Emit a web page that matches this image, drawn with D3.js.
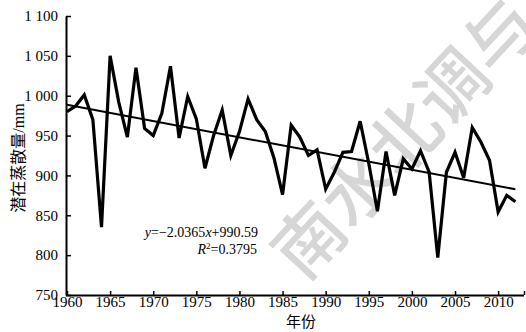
<!DOCTYPE html>
<html>
<head>
<meta charset="utf-8">
<script src="https://cdn.jsdelivr.net/npm/d3@7"></script>
<style>
  html, body { margin: 0; padding: 0; background: #fff; }
  svg { display: block; }
  .serif { font-family: "Liberation Serif", "Times New Roman", "DejaVu Serif", serif; }
  .cjk { font-family: "Noto Sans CJK SC", sans-serif; }
</style>
</head>
<body>
<svg id="chart" width="526" height="332"></svg>
<script>
const years = d3.range(1960, 2013);
const values = [
  980, 987, 1001, 970, 835, 1050, 992, 948, 1035, 959,
  950, 978, 1037, 947, 999, 971, 909, 950, 982, 925,
  955, 996, 970, 955, 922, 876, 963, 948, 925, 932,
  883, 904, 929, 930, 968, 915, 855, 930, 875, 921,
  908, 931, 904, 797, 904, 929, 897, 960, 942, 919,
  854, 875, 867
];
const xTicks = [1960, 1965, 1970, 1975, 1980, 1985, 1990, 1995, 2000, 2005, 2010];
const yTicks = [750, 800, 850, 900, 950, 1000, 1050, 1100];
const yTickLabels = ["750", "800", "850", "900", "950", "1 000", "1 050", "1 100"];
const trendSlope = -2.0365;
const trendIntercept = 990.59;
const xTitle = "年份";
const yTitle = "潜在蒸散量";
const watermark = "南水北调与水利科技";

(function () {
const svg = d3.select("#chart");
const mLeft = 66, mRight = 523, mTop = 16, mBottom = 295;

const x = d3.scaleLinear().domain([1960, 2013]).range([mLeft + 1, mRight + 1]);
const y = d3.scaleLinear().domain([750, 1100]).range([mBottom, mTop]);

// watermark
svg.append("text")
  .attr("class", "cjk")
  .attr("transform", "translate(304,283) rotate(-47)")
  .attr("font-size", 70)
  .attr("font-weight", 500)
  .attr("fill", "#d6d6d6")
  .text(watermark);

// axes
const xAxis = d3.axisBottom(x).tickValues(xTicks.concat([2013])).tickSizeInner(-4).tickSizeOuter(0)
  .tickFormat(d => d === 2013 ? "" : d);
const gx = svg.append("g").attr("transform", `translate(0,${mBottom})`).call(xAxis);
gx.attr("font-family", null);
gx.select(".domain").attr("stroke", "#000").attr("stroke-width", 2)
  .attr("d", `M${mLeft},0.5H${mRight + 1}`);
gx.selectAll(".tick line").attr("stroke", "#000").attr("stroke-width", 1.5);
gx.selectAll(".tick text").attr("class", "serif").style("font-size", "15px")
  .attr("fill", "#000").attr("dy", "0.45em").attr("y", 5);

const yAxis = d3.axisLeft(y).tickValues(yTicks).tickSizeInner(-5).tickSizeOuter(0)
  .tickFormat((d, i) => yTickLabels[i]);
const gy = svg.append("g").attr("transform", `translate(${mLeft},0)`).call(yAxis);
gy.attr("font-family", null);
gy.select(".domain").attr("stroke", "#000").attr("stroke-width", 2);
gy.selectAll(".tick line").attr("stroke", "#000").attr("stroke-width", 1.5);
gy.selectAll(".tick text").attr("class", "serif").style("font-size", "15px")
  .attr("fill", "#000").attr("x", -8);

// trend line
const trend = [years[0], years[years.length - 1]].map(yr => ({
  yr, v: trendSlope * (yr - 1959) + trendIntercept
}));
svg.append("line")
  .attr("x1", x(trend[0].yr)).attr("y1", y(trend[0].v))
  .attr("x2", x(trend[1].yr)).attr("y2", y(trend[1].v))
  .attr("stroke", "#000").attr("stroke-width", 2);

// data line
const line = d3.line().x((d, i) => x(years[i])).y(d => y(d));
svg.append("path").datum(values)
  .attr("d", line)
  .attr("fill", "none").attr("stroke", "#000").attr("stroke-width", 3.2)
  .attr("stroke-linejoin", "miter").attr("stroke-miterlimit", 4);

// equation
const eq = svg.append("text").attr("class", "serif").attr("x", 258).attr("y", 237)
  .attr("text-anchor", "end").style("font-size", "14px").attr("fill", "#000");
eq.append("tspan").attr("font-style", "italic").text("y");
eq.append("tspan").text("=\u22122.0365");
eq.append("tspan").attr("font-style", "italic").text("x");
eq.append("tspan").text("+990.59");

const r2 = svg.append("text").attr("class", "serif").attr("x", 257).attr("y", 254)
  .attr("text-anchor", "end").style("font-size", "14px").attr("fill", "#000");
r2.append("tspan").attr("font-style", "italic").text("R");
r2.append("tspan").style("font-size", "9px").attr("dy", -5).text("2");
r2.append("tspan").attr("dy", 5).text("=0.3795");

// axis titles
svg.append("text").attr("class", "cjk").attr("x", 301).attr("y", 327)
  .attr("text-anchor", "middle").style("font-size", "15px").attr("fill", "#000")
  .text(xTitle);

const yt = svg.append("text").attr("class", "cjk")
  .attr("transform", `translate(24,158) rotate(-90)`)
  .attr("text-anchor", "middle").style("font-size", "16px").attr("fill", "#000");
yt.append("tspan").text(yTitle);
yt.append("tspan").attr("class", "serif").style("font-size", "16px").text("/mm");
})();
</script>
</body>
</html>
